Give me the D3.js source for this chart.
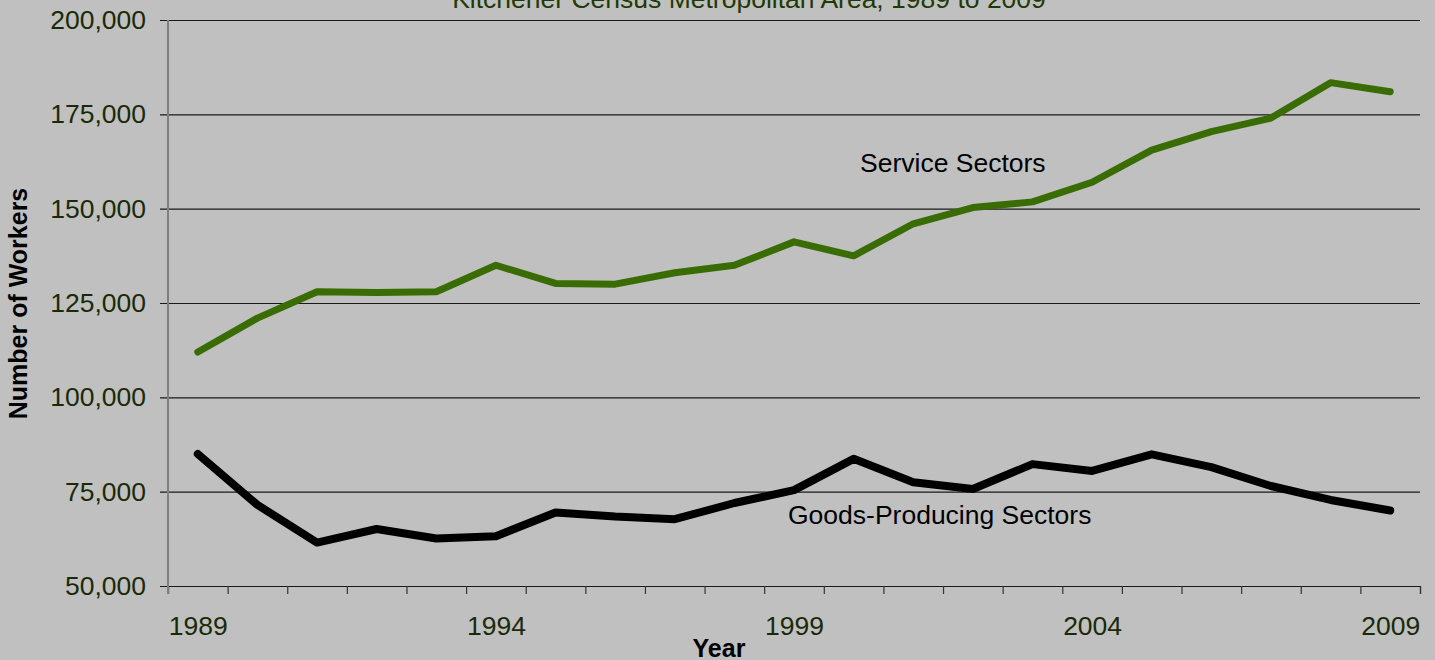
<!DOCTYPE html>
<html>
<head>
<meta charset="utf-8">
<script src="https://cdn.jsdelivr.net/npm/d3@7"></script>
<style>
  html, body { margin: 0; padding: 0; background: #c0c0c0; }
  svg { display: block; font-family: "Liberation Sans", Arial, sans-serif; }
  .tick-label { fill: #1a2a06; font-size: 26.5px; }
</style>
</head>
<body>
<div id="chart"></div>
<script>
// Employment by sector, Kitchener CMA
const years = d3.range(1989, 2010);
const serviceSectors = [112000, 121000, 128000, 127800, 128000, 135000, 130200, 130000, 133000, 135000,
  141200, 137500, 146000, 150300, 151800, 157000, 165500, 170400, 174000, 183400, 181000];
const goodsSectors = [85000, 71500, 61500, 65100, 62600, 63200, 69500, 68400, 67700, 72000,
  75400, 83700, 77500, 75700, 82300, 80500, 84900, 81500, 76500, 72800, 70000];
const yTicks = [50000, 75000, 100000, 125000, 150000, 175000, 200000];
const xLabelYears = [1989, 1994, 1999, 2004, 2009];

const W = 1435, H = 660;
const MARGIN = { top: 20, right: 15, bottom: 74, left: 168 };
const innerW = W - MARGIN.left - MARGIN.right;
const innerH = H - MARGIN.top - MARGIN.bottom;

const svg = d3.select('#chart').append('svg')
  .attr('width', W)
  .attr('height', H);

const g = svg.append('g').attr('transform', `translate(${MARGIN.left},${MARGIN.top})`);

const x = d3.scaleLinear().domain([1988.5, 2009.5]).range([0, innerW]);
const y = d3.scaleLinear().domain([50000, 200000]).range([innerH, 0]);

// Gridlines + y labels
g.append('g')
  .call(d3.axisLeft(y).tickValues(yTicks).tickSize(-innerW).tickPadding(22)
    .tickFormat(d3.format(',')))
  .call(ax => ax.select('.domain').remove())
  .call(ax => ax.selectAll('.tick line')
    .attr('x1', -8).attr('x2', innerW)
    .attr('stroke', '#1a1a1a').attr('stroke-width', 1.2))
  .call(ax => ax.selectAll('.tick text')
    .attr('class', 'tick-label')
    .attr('font-family', null).attr('font-size', null).attr('fill', null));

// x tick marks at year boundaries
g.append('g')
  .attr('transform', `translate(0,${innerH})`)
  .call(d3.axisBottom(x).tickValues(d3.range(1988.5, 2010, 1)).tickSize(8).tickFormat(''))
  .call(ax => ax.select('.domain').attr('stroke', '#1a1a1a').attr('stroke-width', 1.2))
  .call(ax => ax.selectAll('.tick line').attr('stroke', '#333').attr('stroke-width', 1.2));

// x labels
g.append('g')
  .attr('transform', `translate(0,${innerH})`)
  .call(d3.axisBottom(x).tickValues(xLabelYears).tickSize(0).tickPadding(30).tickFormat(d3.format('d')))
  .call(ax => ax.select('.domain').remove())
  .call(ax => ax.selectAll('.tick text')
    .attr('class', 'tick-label')
    .attr('font-family', null).attr('font-size', null).attr('fill', null));

// y axis line
g.append('line')
  .attr('x1', 0).attr('x2', 0).attr('y1', 0).attr('y2', innerH + 8)
  .attr('stroke', '#7f7f7f').attr('stroke-width', 2);

const line = d3.line()
  .x((d, i) => x(years[i]))
  .y(d => y(d));

g.append('path')
  .datum(serviceSectors)
  .attr('d', line)
  .attr('fill', 'none')
  .attr('stroke', '#3a6c04')
  .attr('stroke-width', 7)
  .attr('stroke-linejoin', 'round')
  .attr('stroke-linecap', 'round');

g.append('path')
  .datum(goodsSectors)
  .attr('d', line)
  .attr('fill', 'none')
  .attr('stroke', '#000')
  .attr('stroke-width', 8)
  .attr('stroke-linejoin', 'round')
  .attr('stroke-linecap', 'round');

// Series labels
svg.append('text')
  .attr('x', 860).attr('y', 172)
  .attr('font-size', 26.5).attr('fill', '#000')
  .text('Service Sectors');

svg.append('text')
  .attr('x', 788).attr('y', 524)
  .attr('font-size', 26.5).attr('fill', '#000')
  .text('Goods-Producing Sectors');

// Title (clipped at top)
svg.append('text')
  .attr('x', 749).attr('y', 8)
  .attr('text-anchor', 'middle')
  .attr('font-size', 26.5).attr('fill', '#203a02')
  .text('Kitchener Census Metropolitan Area, 1989 to 2009');

// Axis titles
svg.append('text')
  .attr('transform', 'translate(27,303.5) rotate(-90)')
  .attr('text-anchor', 'middle')
  .attr('font-size', 25).attr('font-weight', 'bold').attr('fill', '#000')
  .text('Number of Workers');

svg.append('text')
  .attr('x', 719).attr('y', 657)
  .attr('text-anchor', 'middle')
  .attr('font-size', 25).attr('font-weight', 'bold').attr('fill', '#000')
  .text('Year');
</script>
</body>
</html>
